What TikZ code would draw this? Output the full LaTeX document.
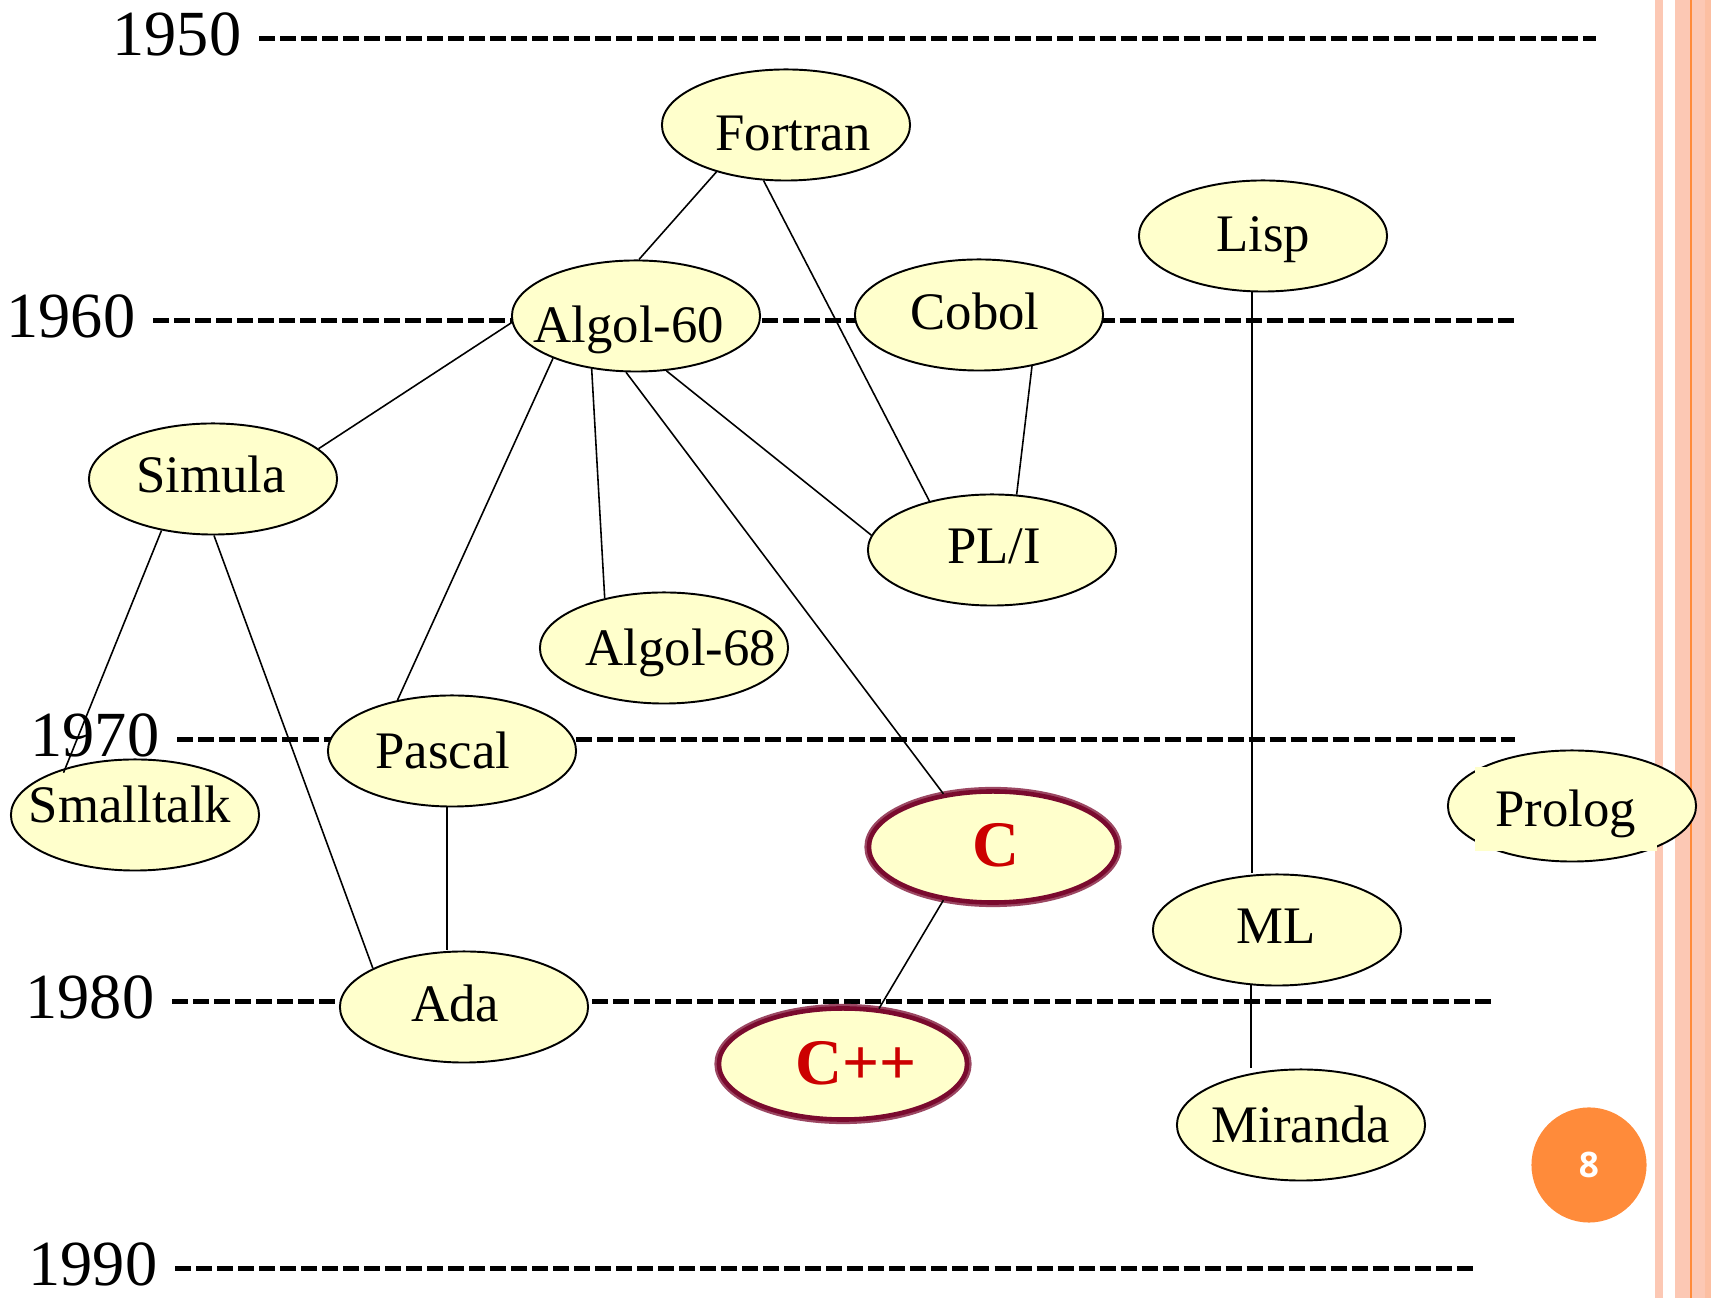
\documentclass[tikz,border=0pt]{standalone}
\usepackage{fontspec}
\setmainfont{Liberation Serif}
\newfontfamily\pagefont{Open Sans}
\usetikzlibrary{shapes.geometric}
\definecolor{lemon}{HTML}{FFFFCC}
\definecolor{berry}{HTML}{7A0A2E}
\definecolor{cred}{HTML}{CC0000}
\definecolor{salmon}{HTML}{FCC8B4}
\definecolor{tangerine}{HTML}{FF8B3A}
% text shifted inside an ellipse without changing its size
\newcommand\off[3]{\makebox[0pt]{\hspace*{#1}\hspace*{#1}\raisebox{#2}{#3}}}
\tikzset{
  lang/.style={ellipse, draw=black, line width=0.55pt, fill=lemon, minimum width=2.48cm, minimum height=1.11cm, inner sep=0pt, text height=0.35cm, text depth=0pt, font=\fontsize{15pt}{18pt}\selectfont},
  hotlang/.style={lang, draw=berry, line width=1.3pt, preaction={draw=berry!75, line width=2.6pt}, text=cred, text height=0.43cm, font=\fontsize{18.5pt}{21pt}\selectfont\bfseries},
  year/.style={anchor=east, inner xsep=0.17cm, inner ysep=0pt, text depth=0.09cm, font=\fontsize{18.3pt}{22pt}\selectfont},
  timeline/.style={line width=0.05cm, dash pattern=on 0.16cm off 0.05cm},
  edge/.style={line width=0.45pt}
}

\begin{document}
\begin{tikzpicture}[x=0.01cm,y=-0.01cm]
			%%%%% START %%%%%
			\useasboundingbox (0,0) rectangle (1711,1298);
			
			% border stripes
			\fill[salmon] (1655,0) rectangle (1663,1298);
			\fill[salmon] (1675,0) rectangle (1711,1298);
			\fill[salmon!85!tangerine] (1705,0) rectangle (1711,1298);
			\fill[tangerine] (1690,0) rectangle (1692,1298);
			
			% time lines
			\node[year] (y1950) at (259,39) {1950};
			\coordinate (e1950) at (1596,39);
			\draw[timeline] (y1950) -- (e1950);
			\node[year] (y1960) at (153,321) {1960};
			\coordinate (e1960) at (1515,321);
			\draw[timeline] (y1960) -- (e1960);
			\node[year] (y1970) at (177,740) {1970};
			\coordinate (e1970) at (1515,740);
			\draw[timeline] (y1970) -- (e1970);
			\node[year] (y1980) at (172,1002) {1980};
			\coordinate (e1980) at (1491,1002);
			\draw[timeline] (y1980) -- (e1980);
			\node[year] (y1990) at (175,1269) {1990};
			\coordinate (e1990) at (1473,1269);
			\draw[timeline] (y1990) -- (e1990);
			
			% languages
			\node[lang] (fortran) at (786,125) {\off{0.07cm}{-0.08cm}{Fortran}};
			\node[lang] (lisp) at (1263,236) {\off{0cm}{0.02cm}{Lisp}};
			\node[lang] (algol60) at (636,316) {\off{-0.07cm}{-0.09cm}{Algol-60}};
			\node[lang] (cobol) at (979,315) {\off{-0.04cm}{0.03cm}{Cobol}};
			\node[lang] (simula) at (213,479) {\off{-0.02cm}{0.04cm}{Simula}};
			\node[lang] (pli) at (992,550) {\off{0.02cm}{0.04cm}{PL/I}};
			\node[lang] (algol68) at (664,648) {\off{0.17cm}{0cm}{Algol-68}};
			\node[lang] (pascal) at (452,751) {\off{-0.09cm}{0cm}{Pascal}};
			\node[lang] (smalltalk) at (135,815) {\off{-0.05cm}{0.1cm}{Smalltalk}};
			\node[lang] (prolog) at (1572,806) {};
			\node[fill=lemon, minimum width=1.81cm, minimum height=0.83cm, inner sep=0pt, text height=0.35cm, text depth=0pt, font=\fontsize{15pt}{18pt}\selectfont] (prologbox) at (1566,809) {Prolog};
			\node[hotlang] (c) at (993,847) {\off{0.03cm}{0.02cm}{C}};
			\node[lang] (ml) at (1277,930) {\off{-0.01cm}{0.04cm}{ML}};
			\node[lang] (ada) at (464,1007) {\off{-0.09cm}{0.03cm}{Ada}};
			\node[hotlang] (cpp) at (843,1064) {\off{0.13cm}{0.01cm}{C++}};
			\node[lang] (miranda) at (1301,1125) {\off{0cm}{0cm}{Miranda}};
			
			% descent
			\draw[edge] (fortran.214) -- (algol60.87);
			\draw[edge] (fortran.248) -- (pli.142);
			\draw[edge] (algol60.183) -- (simula.16);
			\draw[edge] (algol60.207) -- (pascal.137);
			\draw[edge] (algol60.230) -- (algol68.140);
			\draw[edge] (algol60.260) -- (c.133);
			\draw[edge] (algol60.299) -- (pli.173);
			\draw[edge] (cobol.316) -- (pli.66);
			\draw[edge] (lisp.259) -- (lisp.259 |- ml.north);
			\draw[edge, shorten >=-0.05cm] (simula.225) -- (smalltalk.146);
			\draw[edge] (simula.271) -- (ada.157);
			\draw[edge] (pascal.265) -- (pascal.265 |- ada.north);
			\draw[edge] (c.227) -- (cpp.57);
			\draw[edge] (ml.245) -- (ml.245 |- miranda.north);
			
			% page number
			\node[circle, fill=tangerine, minimum size=1.15cm, inner sep=0pt, text=white, font=\pagefont\bfseries\fontsize{10pt}{12pt}\selectfont] (pagenum) at (1589,1165) {8};
			%%%%% END %%%%%
\end{tikzpicture}
\end{document}
